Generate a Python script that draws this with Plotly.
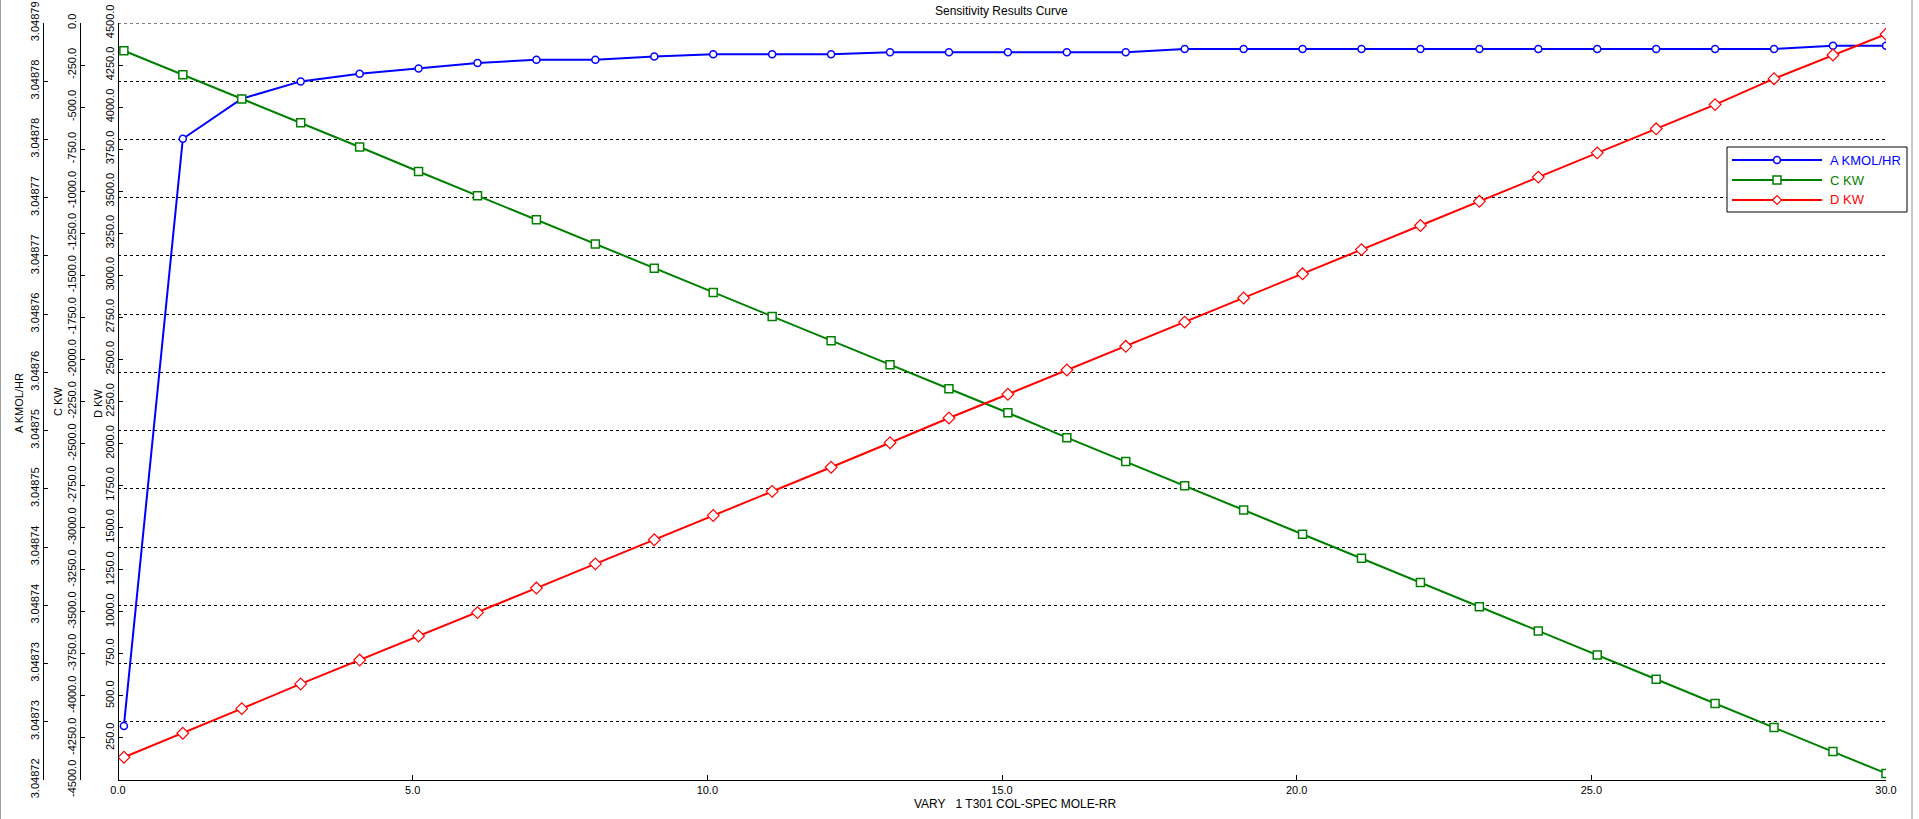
import numpy as np
import plotly.graph_objects as go

# ---------------- data ----------------
X = [0.1, 1.1, 2.1, 3.1, 4.1, 5.1, 6.1, 7.1, 8.1, 9.1, 10.1, 11.1, 12.1, 13.1, 14.1,
     15.1, 16.1, 17.1, 18.1, 19.1, 20.1, 21.1, 22.1, 23.1, 24.1, 25.1, 26.1, 27.1,
     28.1, 29.1, 30.0]

A_KMOL_HR = [3.0487250, 3.0487793, 3.0487830, 3.0487846, 3.0487853, 3.0487858,
             3.0487863, 3.0487866, 3.0487866, 3.0487869, 3.0487871, 3.0487871,
             3.0487871, 3.0487873, 3.0487873, 3.0487873, 3.0487873, 3.0487873,
             3.0487876, 3.0487876, 3.0487876, 3.0487876, 3.0487876, 3.0487876,
             3.0487876, 3.0487876, 3.0487876, 3.0487876, 3.0487876, 3.0487879,
             3.0487879]

C_KW = [-165, -307, -452, -593, -737, -883, -1027, -1170, -1314, -1458, -1602,
        -1745, -1889, -2031, -2174, -2317, -2465, -2607, -2751, -2895, -3039,
        -3182, -3326, -3470, -3614, -3757, -3901, -4045, -4188, -4330, -4461]

D_KW = [135, 278, 424, 571, 713, 856, 995, 1141, 1285, 1428, 1572, 1716, 1859,
        2005, 2152, 2293, 2437, 2578, 2722, 2865, 3009, 3153, 3296, 3440, 3584,
        3728, 3871, 4015, 4169, 4310, 4433]

SERIES_NAMES = ["A KMOL/HR", "C KW", "D KW"]

X_TICK_VALUES = [0, 5, 10, 15, 20, 25, 30]
X_TICK_LABELS = ["0.0", "5.0", "10.0", "15.0", "20.0", "25.0", "30.0"]

A_RANGE = [3.04872, 3.04879]
A_TICK_LABELS = ["3.04872", "3.04873", "3.04873", "3.04874", "3.04874", "3.04875",
                 "3.04875", "3.04876", "3.04876", "3.04877", "3.04877", "3.04878",
                 "3.04878", "3.04879"]

C_RANGE = [-4500, 0]
C_TICK_VALUES = list(range(-4500, 1, 250))
C_TICK_LABELS = [f"{v:.1f}" for v in C_TICK_VALUES]

D_RANGE = [0, 4500]
D_TICK_VALUES = list(range(250, 4501, 250))
D_TICK_LABELS = [f"{v:.1f}" for v in D_TICK_VALUES]

TITLE = "Sensitivity Results Curve"
X_TITLE = "VARY\u00a0\u00a0\u00a01 T301 COL-SPEC MOLE-RR"
Y_TITLES = ["A KMOL/HR", "C KW", "D KW"]

# ---------------- layout geometry ----------------
W, H = 1919, 819
ML, MR, MT, MB = 0, 33, 23, 39
PW = W - ML - MR
PH = H - MT - MB


def px(xpage):
    return (xpage - ML) / PW


def py(ypage):
    return (H - MB - ypage) / PH


BLUE, GREEN, RED = "#0000FF", "#008000", "#FF0000"
COLORS = [BLUE, GREEN, RED]
FONT = "Liberation Sans, Arial, sans-serif"

A_TICK_VALUES = list(np.linspace(A_RANGE[0], A_RANGE[1], len(A_TICK_LABELS)))

fig = go.Figure()
fig.add_trace(go.Scatter(
    x=X, y=A_KMOL_HR, yaxis="y", mode="lines+markers", name=SERIES_NAMES[0],
    line=dict(color=BLUE, width=2),
    marker=dict(symbol="circle", size=7, color="white", line=dict(color=BLUE, width=1.5))))
fig.add_trace(go.Scatter(
    x=X, y=C_KW, yaxis="y2", mode="lines+markers", name=SERIES_NAMES[1],
    line=dict(color=GREEN, width=2),
    marker=dict(symbol="square", size=8, color="white", line=dict(color=GREEN, width=1.5))))
fig.add_trace(go.Scatter(
    x=X, y=D_KW, yaxis="y3", mode="lines+markers", name=SERIES_NAMES[2],
    line=dict(color=RED, width=2),
    marker=dict(symbol="diamond", size=9, color="white", line=dict(color=RED, width=1.2))))

yaxis_common = dict(
    showline=True, linecolor="black", linewidth=1,
    ticks="inside", ticklen=4, tickcolor="black",
    tickangle=-90, tickfont=dict(family=FONT, size=11, color="black"),
    zeroline=False, automargin=False, ticklabeloverflow="allow",
)

# ---- legend box (drawn in the figure's pixel space, like the original) ----
LEG_L, LEG_T, LEG_R, LEG_B = 1727, 147, 1907, 212
LEG_ROWS = [160, 180, 200]
LEG_LINE = (1732, 1822)
LEG_MARK = 1777
LEG_TEXT = 1828

shapes = [
    # dashed grid line along the top edge of the plot (A-axis maximum)
    dict(type="line", xref="paper", yref="y", x0=px(118), x1=1,
         y0=A_RANGE[1], y1=A_RANGE[1], line=dict(color="black", width=1, dash="3px,3px"),
         layer="below"),
    dict(type="rect", xref="paper", yref="paper",
         x0=px(LEG_L), x1=px(LEG_R), y0=py(LEG_B), y1=py(LEG_T),
         line=dict(color="black", width=1), fillcolor="white", layer="above"),
]
annotations = []
for name, color, ry, kind in zip(SERIES_NAMES, COLORS, LEG_ROWS, ["circle", "square", "diamond"]):
    shapes.append(dict(type="line", xref="paper", yref="paper",
                       x0=px(LEG_LINE[0]), x1=px(LEG_LINE[1]), y0=py(ry), y1=py(ry),
                       line=dict(color=color, width=2), layer="above"))
    if kind == "circle":
        r = 3.5
        shapes.append(dict(type="circle", xref="paper", yref="paper",
                           x0=px(LEG_MARK - r), x1=px(LEG_MARK + r),
                           y0=py(ry + r), y1=py(ry - r),
                           line=dict(color=color, width=1.5), fillcolor="white", layer="above"))
    elif kind == "square":
        r = 4
        shapes.append(dict(type="rect", xref="paper", yref="paper",
                           x0=px(LEG_MARK - r), x1=px(LEG_MARK + r),
                           y0=py(ry + r), y1=py(ry - r),
                           line=dict(color=color, width=1.5), fillcolor="white", layer="above"))
    else:
        r = 4.5
        path = (f"M {px(LEG_MARK - r)} {py(ry)} L {px(LEG_MARK)} {py(ry - r)} "
                f"L {px(LEG_MARK + r)} {py(ry)} L {px(LEG_MARK)} {py(ry + r)} Z")
        shapes.append(dict(type="path", xref="paper", yref="paper", path=path,
                           line=dict(color=color, width=1.2), fillcolor="white", layer="above"))
    annotations.append(dict(text=name, xref="paper", yref="paper",
                            x=px(LEG_TEXT), y=py(ry), xanchor="left", yanchor="middle",
                            showarrow=False, font=dict(family=FONT, size=13, color=color)))

# window border lines
shapes.append(dict(type="line", xref="paper", yref="paper", x0=px(0.5), x1=px(0.5),
                   y0=py(0), y1=py(H), line=dict(color="#A0A0A0", width=1)))
shapes.append(dict(type="line", xref="paper", yref="paper", x0=px(1912), x1=px(1912),
                   y0=py(0), y1=py(H), line=dict(color="#C8C8C8", width=2)))

annotations += [
    dict(text=TITLE, xref="paper", yref="paper", x=px(1002), y=py(11),
         xanchor="center", yanchor="middle", showarrow=False,
         font=dict(family=FONT, size=12, color="black")),
    dict(text=X_TITLE, xref="paper", yref="paper", x=px(1015), y=py(804),
         xanchor="center", yanchor="middle", showarrow=False,
         font=dict(family=FONT, size=12, color="black")),
    dict(text=Y_TITLES[0], xref="paper", yref="paper", x=px(19), y=py(403),
         xanchor="center", yanchor="middle", showarrow=False, textangle=-90,
         font=dict(family=FONT, size=11, color="black")),
    dict(text=Y_TITLES[1], xref="paper", yref="paper", x=px(58), y=py(402),
         xanchor="center", yanchor="middle", showarrow=False, textangle=-90,
         font=dict(family=FONT, size=11, color="black")),
    dict(text=Y_TITLES[2], xref="paper", yref="paper", x=px(98), y=py(404),
         xanchor="center", yanchor="middle", showarrow=False, textangle=-90,
         font=dict(family=FONT, size=11, color="black")),
]

fig.update_layout(
    width=W, height=H,
    margin=dict(l=ML, r=MR, t=MT, b=MB, pad=0),
    paper_bgcolor="white", plot_bgcolor="white",
    font=dict(family=FONT, size=11, color="black"),
    showlegend=False,
    hovermode=False,
    xaxis=dict(
        domain=[px(118), 1], range=[0, 30],
        tickvals=X_TICK_VALUES, ticktext=X_TICK_LABELS,
        showline=True, linecolor="black", linewidth=1,
        ticks="inside", ticklen=5, tickcolor="black",
        showgrid=False, zeroline=False,
        tickfont=dict(family=FONT, size=11, color="black"),
        automargin=False,
    ),
    yaxis=dict(
        range=A_RANGE, anchor="free", position=px(43),
        tickvals=A_TICK_VALUES, ticktext=A_TICK_LABELS,
        showgrid=True, gridcolor="black", gridwidth=1, griddash="3px,3px",
        **yaxis_common,
    ),
    yaxis2=dict(
        range=C_RANGE, anchor="free", position=px(80), overlaying="y",
        tickvals=C_TICK_VALUES, ticktext=C_TICK_LABELS, showgrid=False,
        **yaxis_common,
    ),
    yaxis3=dict(
        range=D_RANGE, anchor="free", position=px(118), overlaying="y",
        tickvals=D_TICK_VALUES, ticktext=D_TICK_LABELS, showgrid=False,
        **yaxis_common,
    ),
    annotations=annotations,
    shapes=shapes,
)

# the page body has a default 8px margin; remove it so the figure fills the window
fig.write_html("out.html", config={"displayModeBar": False},
               post_script="document.body.style.margin='0px';")
